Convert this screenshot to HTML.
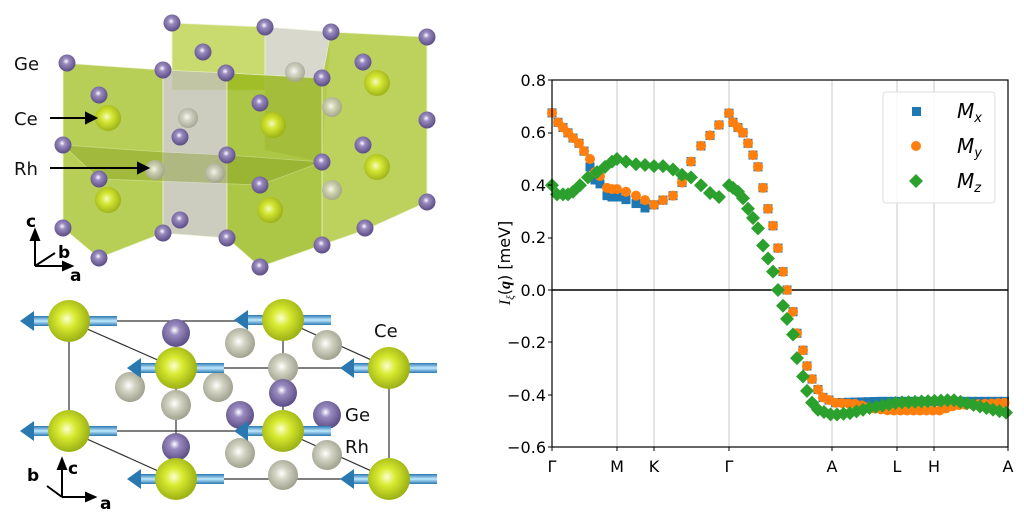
<!DOCTYPE html>
<html><head><meta charset="utf-8"><style>
body{margin:0;background:#fff;width:1024px;height:522px;overflow:hidden}
svg{position:absolute;left:0;top:0}
text{font-family:"DejaVu Sans","Liberation Sans",sans-serif}
</style></head><body>
<svg id="s" width="1024" height="522" viewBox="0 0 1024 522" xmlns="http://www.w3.org/2000/svg">
<defs>
<radialGradient id="gp" cx="0.45" cy="0.4" r="0.6"><stop offset="0" stop-color="#fff"/><stop offset="0.3" stop-color="#9a8cc0"/><stop offset="1" stop-color="#5a4c84"/></radialGradient>
<radialGradient id="gy" cx="0.45" cy="0.45" r="0.6"><stop offset="0" stop-color="#fbffd0"/><stop offset="0.35" stop-color="#d8ea30"/><stop offset="1" stop-color="#93a810"/></radialGradient>
<radialGradient id="gr" cx="0.45" cy="0.45" r="0.6"><stop offset="0" stop-color="#fff"/><stop offset="0.35" stop-color="#d4d4c4"/><stop offset="1" stop-color="#9a9a88"/></radialGradient>
<linearGradient id="ga" x1="0" y1="0" x2="0" y2="1"><stop offset="0" stop-color="#2a78b0"/><stop offset="0.5" stop-color="#bfe8ff"/><stop offset="1" stop-color="#2a78b0"/></linearGradient>
</defs>
<g stroke="#e8f0c8" stroke-width="0.8">
<polygon points="172,23 265,27 265,90 172,90" fill="#b8d040" opacity="0.75"/>
<polygon points="265,27 331,32 322,162 265,150" fill="#c8c8b8" opacity="0.7"/>
<polygon points="331,32 427,37 427,202 365,230 322,245 322,78" fill="#a8c428" opacity="0.75"/>
<polygon points="63,63 163,70 163,233 99,258 63,228" fill="#a0c020" opacity="0.75"/>
<polygon points="163,70 227,73 227,238 163,233" fill="#c0c0b0" opacity="0.8"/>
<polygon points="227,73 322,78 322,245 260,267 227,238" fill="#98b818" opacity="0.8"/>
<polygon points="63,145 163,152 227,155 322,162 260,185 99,179" fill="#7a9410" opacity="0.35"/>
</g>
<g id="topg"></g>
<g stroke="#333" stroke-width="1.2" fill="none">
<path d="M69,321H283M69,321V431M69,321L176,368H389M283,320L389,368V479M69,431H283M69,431L176,479H389M283,431L389,479M176,368V479M283,320V431"/>
</g>
<g id="bot"></g>
<g font-size="18" fill="#111">
<text x="14" y="70">Ge</text><text x="14" y="125">Ce</text><text x="14" y="175">Rh</text>
<text x="374" y="337">Ce</text><text x="345" y="421">Ge</text><text x="345" y="453">Rh</text>
</g>
<g stroke="#000" stroke-width="2" fill="#000">
<line x1="50" y1="118" x2="88" y2="118"/><polygon points="96,118 86,113 86,123"/>
<line x1="50" y1="168" x2="140" y2="168"/><polygon points="148,168 138,163 138,173"/>
<line x1="35" y1="266" x2="35" y2="238"/><polygon points="35,230 31,240 39,240"/>
<line x1="35" y1="266" x2="65" y2="266"/><polygon points="72,266 63,262 63,270"/>
<line x1="35" y1="266" x2="55" y2="253"/>
<line x1="62" y1="497" x2="62" y2="466"/><polygon points="62,459 58,469 66,469"/>
<line x1="62" y1="497" x2="88" y2="497"/><polygon points="95,497 86,493 86,501"/>
<line x1="62" y1="497" x2="47" y2="486"/>
</g>
<g font-size="17" font-weight="bold" fill="#000">
<text x="26" y="227">c</text><text x="58" y="258">b</text><text x="70" y="281">a</text>
<text x="27" y="481">b</text><text x="68" y="474">c</text><text x="100" y="509">a</text>
</g>
<g stroke="#c8c8c8" stroke-width="1">
<path d="M617,80V447M654,80V447M729,80V447M832,80V447M897,80V447M934,80V447"/>
</g>
<line x1="552" y1="290" x2="1008" y2="290" stroke="#000" stroke-width="1.5"/>
<g id="pts"></g>
<rect x="552" y="80" width="456" height="367" fill="none" stroke="#000" stroke-width="1.2"/>
<g id="ticks" stroke="#000" stroke-width="1"></g>
<g font-size="16" fill="#000" text-anchor="end">
<text x="546" y="86">0.8</text><text x="546" y="138">0.6</text><text x="546" y="191">0.4</text><text x="546" y="243">0.2</text><text x="546" y="296">0.0</text><text x="546" y="348">−0.2</text><text x="546" y="401">−0.4</text><text x="546" y="453">−0.6</text>
</g>
<g font-size="16" fill="#000" text-anchor="middle">
<text x="552" y="472" font-family="Liberation Serif">Γ</text><text x="617" y="472">M</text><text x="654" y="472">K</text><text x="729" y="472" font-family="Liberation Serif">Γ</text><text x="832" y="472">A</text><text x="897" y="472">L</text><text x="934" y="472">H</text><text x="1008" y="472">A</text>
</g>
<text transform="translate(510,263) rotate(-90)" font-size="16" text-anchor="middle"><tspan font-family="Liberation Serif" font-style="italic">I</tspan><tspan font-family="Liberation Serif" font-style="italic" font-size="11" dy="4">ξ</tspan><tspan dy="-4">(</tspan><tspan font-family="Liberation Serif" font-style="italic" font-weight="bold">q</tspan>) [meV]</text>
<rect x="883" y="92" width="112" height="111" rx="3" fill="#fff" fill-opacity="0.85" stroke="#ddd"/>
<rect x="912" y="107" width="9" height="9" fill="#1f77b4"/>
<circle cx="916" cy="146" r="5" fill="#ff7f0e"/>
<polygon points="916,174 923,181 916,188 909,181" fill="#2ca02c"/>
<g font-family="Liberation Serif" font-style="italic" font-size="20" fill="#000">
<text x="957" y="118">M<tspan font-size="13" dy="4">x</tspan></text>
<text x="957" y="153">M<tspan font-size="13" dy="4">y</tspan></text>
<text x="957" y="188">M<tspan font-size="13" dy="4">z</tspan></text>
</g>
</svg>
<script>
(function(){
var NS="http://www.w3.org/2000/svg";
function el(p,t,a){var e=document.createElementNS(NS,t);for(var k in a)e.setAttribute(k,a[k]);p.appendChild(e);return e;}
var tg=document.getElementById('topg');
var ge=[[172,23],[265,27],[331,32],[427,37],[203,52],[363,62],[67,63],[163,70],[226,73],[322,78],[99,95],[260,103],[427,120],[180,137],[63,145],[363,145],[227,155],[322,162],[99,179],[260,185],[427,202],[180,220],[63,228],[163,233],[365,228],[227,238],[322,245],[99,258],[260,267]];
var rh=[[188,118],[155,170],[215,173],[295,72],[332,107],[332,190]];
var ce=[[108,118],[273,125],[377,83],[108,200],[270,210],[377,167]];
rh.forEach(function(p){el(tg,'circle',{cx:p[0],cy:p[1],r:10,fill:'url(#gr)',opacity:0.85});});
ce.forEach(function(p){el(tg,'circle',{cx:p[0],cy:p[1],r:13,fill:'url(#gy)',opacity:0.9});});
ge.forEach(function(p){el(tg,'circle',{cx:p[0],cy:p[1],r:8.5,fill:'url(#gp)'});});
var bot=document.getElementById('bot');
[[240,343],[327,345],[283,368],[130,387],[218,387],[176,405],[240,453],[327,455],[283,475]].forEach(function(p){el(bot,'circle',{cx:p[0],cy:p[1],r:15,fill:'url(#gr)'});});
[[176,333],[283,393],[240,415],[327,415],[176,447]].forEach(function(p){el(bot,'circle',{cx:p[0],cy:p[1],r:14,fill:'url(#gp)'});});
[[69,321],[283,320],[176,368],[389,368],[69,431],[283,431],[176,479],[389,479]].forEach(function(p){
 var x=p[0],y=p[1];
 el(bot,'rect',{x:x-40,y:y-5,width:88,height:10,fill:'url(#ga)'});
 el(bot,'polygon',{points:(x-49)+','+y+' '+(x-35)+','+(y-10)+' '+(x-35)+','+(y+10),fill:'#2a78b0'});
 el(bot,'circle',{cx:x,cy:y,r:21,fill:'url(#gy)'});
 el(bot,'rect',{x:x+21,y:y-5,width:27,height:10,fill:'url(#ga)'});
});
var tk=document.getElementById('ticks');
[80,133,185,238,290,342,395,447].forEach(function(y){el(tk,'line',{x1:548,y1:y,x2:552,y2:y});});
[552,617,654,729,832,897,934,1008].forEach(function(x){el(tk,'line',{x1:x,y1:447,x2:x,y2:451});});
function Y(v){return 290-262*v;}
function interp(k,x){for(var i=0;i<k.length-1;i++){if(x<=k[i+1][0]){var t=(x-k[i][0])/(k[i+1][0]-k[i][0]);return k[i][1]+t*(k[i+1][1]-k[i][1]);}}return k[k.length-1][1];}
function tail(k,x0){var r=[];for(var x=x0;x<=1008.5;x+=6.5)r.push([x,interp(k,x)]);return r;}
var orange=[[552,.676],[558,.64],[563,.62],[568,.6],[573,.58],[579,.56],[584,.53],[590,.5],[595,.45],[600,.435],[607,.39],[612,.385],[617,.385],[626,.375],[636,.36],[645,.343],[654,.325],[663,.343],[673,.36],[682,.41],[691,.49],[701,.55],[710,.59],[719,.63],[729,.675],[733,.64],[738,.62],[743,.6],[748,.56],[753,.515],[758,.47],[763,.39],[768,.31],[773,.245],[778,.16],[783,.07],[787,0],[793,-.083],[797,-.165],[803,-.23],[807,-.29],[812,-.34],[818,-.38],[823,-.41]];
var blue=orange.map(function(p){var x=p[0],v=p[1];if(x>=590&&x<=645)v-=0.03;return [x,v];});
orange=orange.concat(tail([[823,-.41],[835,-.43],[857,-.435],[870,-.45],[890,-.46],[940,-.46],[955,-.44],[1008,-.43]],829));
blue=blue.concat(tail([[823,-.41],[835,-.43],[880,-.425],[1008,-.425]],829));
var green=[[552,.4],[557,.365],[563,.365],[568,.365],[573,.375],[580,.4],[588,.43],[597,.45],[605,.47],[612,.49],[617,.5],[626,.49],[636,.48],[645,.477],[654,.473],[663,.473],[673,.46],[682,.44],[691,.43],[701,.4],[710,.37],[719,.355],[729,.4],[733,.39],[738,.375],[743,.35],[748,.31],[753,.275],[758,.235],[763,.17],[768,.12],[773,.07],[778,0],[783,-.06],[787,-.11],[793,-.17],[797,-.26],[803,-.33],[807,-.385],[812,-.43],[818,-.457]];
green=green.concat(tail([[818,-.457],[832,-.477],[850,-.47],[870,-.45],[897,-.43],[953,-.42],[1008,-.47]],824));
var g=document.getElementById('pts');
blue.forEach(function(p){el(g,'rect',{x:p[0]-4.5,y:Y(p[1])-4.5,width:9,height:9,fill:'#1f77b4'});});
orange.forEach(function(p){el(g,'circle',{cx:p[0],cy:Y(p[1]),r:5,fill:'#ff7f0e'});});
green.forEach(function(p){var x=p[0],y=Y(p[1]);el(g,'polygon',{points:x+','+(y-7)+' '+(x+7)+','+y+' '+x+','+(y+7)+' '+(x-7)+','+y,fill:'#2ca02c'});});
})();
</script>
</body></html>
